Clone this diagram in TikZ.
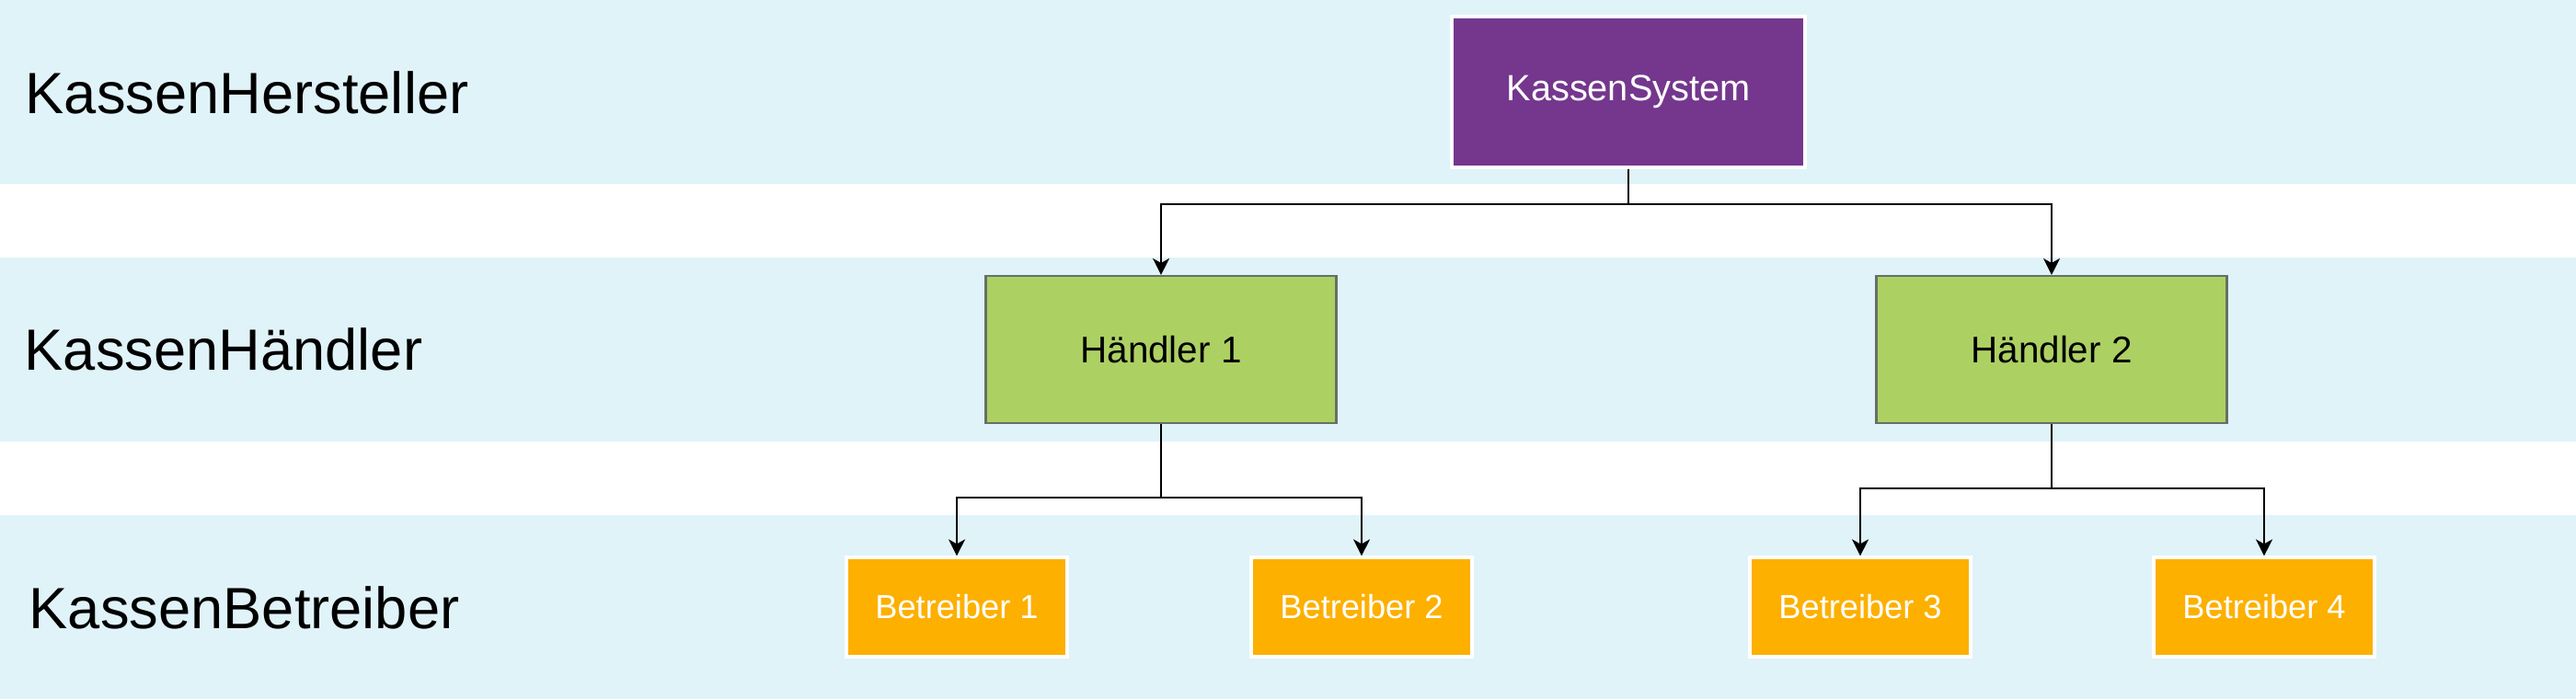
\documentclass[tikz,border=0pt]{standalone}
\usepackage{fontspec}
\setmainfont{Liberation Sans}
\usetikzlibrary{arrows.meta}

\definecolor{bandblue}{RGB}{224,243,249}
\definecolor{sysviolet}{RGB}{116,55,141}
\definecolor{haendlergreen}{RGB}{173,208,99}
\definecolor{haendlergray}{RGB}{102,112,102}
\definecolor{betreiberorange}{RGB}{253,176,0}

\begin{document}
\begin{tikzpicture}[
        level/.style={anchor=west, inner sep=0pt, font=\fontsize{18}{22}\selectfont},
        system/.style={draw=white, line width=0.9pt, fill=sysviolet, text=white,
            minimum width=3.84cm, minimum height=1.64cm, font=\fontsize{11.3}{13}\selectfont},
        haendler/.style={draw=haendlergray, line width=0.6pt, fill=haendlergreen,
            minimum width=3.81cm, minimum height=1.6cm, font=\fontsize{11.5}{13}\selectfont},
        betreiber/.style={draw=white, line width=0.9pt, fill=betreiberorange, text=white,
            minimum width=2.4cm, minimum height=1.08cm, font=\fontsize{10.3}{12}\selectfont},
        conn/.style={line width=0.55pt, -{Stealth[length=0.18cm, width=0.18cm, inset=0.05cm]}}
    ]
        \useasboundingbox (0,0) rectangle (28,7.6);

        % bands
        \fill[bandblue] (0,5.6) rectangle (28,7.6);
        \fill[bandblue] (0,2.8) rectangle (28,4.8);
        \fill[bandblue] (0,0) rectangle (28,2.0);

        \node[level] (lvlhersteller) at (0.27,6.59) {KassenHersteller};
        \node[level] (lvlhaendler) at (0.26,3.8) {KassenHändler};
        \node[level] (lvlbetreiber) at (0.31,0.99) {KassenBetreiber};

        \node[system] (sys) at (17.7,6.6) {KassenSystem};

        \node[haendler] (h1) at (12.62,3.8) {Händler 1};
        \node[haendler] (h2) at (22.3,3.8) {Händler 2};

        \node[betreiber] (b1) at (10.4,1.0) {Betreiber 1};
        \node[betreiber] (b2) at (14.8,1.0) {Betreiber 2};
        \node[betreiber] (b3) at (20.22,1.0) {Betreiber 3};
        \node[betreiber] (b4) at (24.61,1.0) {Betreiber 4};

        % tree
        \draw[conn] (sys.south) -- ++(0,-0.38) -| (h1.north);
        \draw[conn] (sys.south) -- ++(0,-0.38) -| (h2.north);
        \draw[conn] (h1.south) -- ++(0,-0.8) -| (b1.north);
        \draw[conn] (h1.south) -- ++(0,-0.8) -| (b2.north);
        \draw[conn] (h2.south) -- ++(0,-0.7) -| (b3.north);
        \draw[conn] (h2.south) -- ++(0,-0.7) -| (b4.north);
    \end{tikzpicture}
\end{document}
